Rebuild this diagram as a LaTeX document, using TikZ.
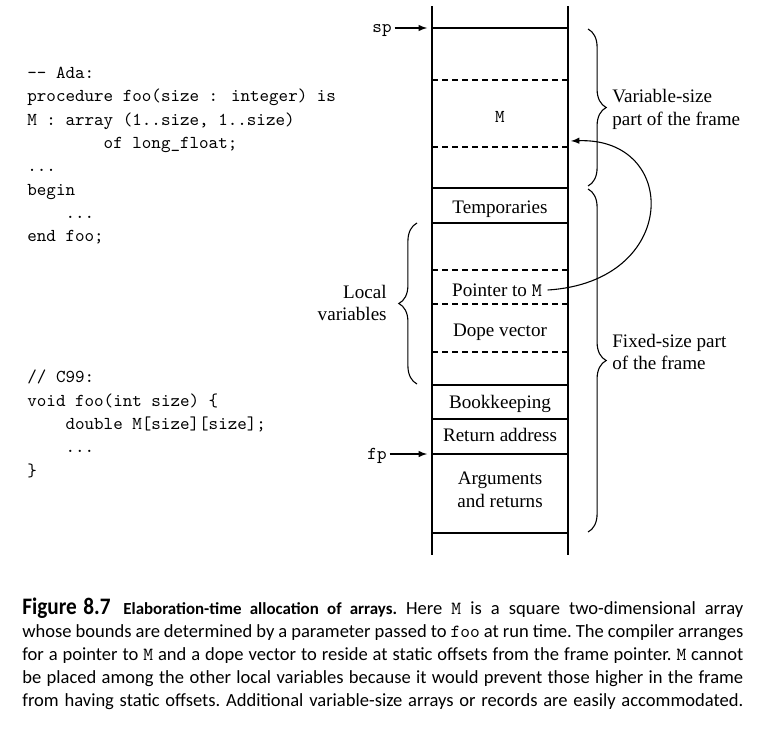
\documentclass[tikz,border=0pt]{standalone}
\usepackage{fontspec}
\setmainfont{Liberation Serif}
\newfontfamily\capfont{Carlito}
\usetikzlibrary{arrows,decorations.pathreplacing}

\begin{document}
\begin{tikzpicture}%
        [x=0.55pt,
        y=-0.55pt,
        wall/.style={thick},
        slot/.style={thick},
        gap/.style={thick, dash pattern=on 3.3pt off 2.2pt},
        cell/.style={font=\fontsize{10.5}{12.5}\selectfont, align=center, inner sep=3pt},
        code/.style={font=\ttfamily\fontsize{10}{12.8}\selectfont, align=left, anchor=north west, inner sep=0pt},
        reg/.style={font=\ttfamily\fontsize{10}{12}\selectfont, inner sep=1.5pt},
        note/.style={font=\fontsize{10.5}{12.4}\selectfont, inner sep=0pt},
        brace/.style={decorate, decoration={brace, amplitude=10pt}, line width=0.6pt},
        link/.style={line width=0.6pt, -latex}]

    \useasboundingbox (0,0) rectangle (763,736);

    %% Source code
    \node[code] (ada) at (27,67) {%
        -\kern0pt- Ada:\\
        procedure foo(size : integer) is\\
        M : array (1..size, 1..size)\\
        ~~~~~~~~of long\_float;\\
        ...\\
        begin\\
        ~~~~...\\
        end foo;};
    \node[code] (cnn) at (27,370) {%
        // C99:\\
        void foo(int size) \{\\
        ~~~~double M[size][size];\\
        ~~~~...\\
        \}};

    %% The stack
    \draw[wall] (432,6) -- (432,555);
    \draw[wall] (568,6) -- (568,555);
    \foreach \y in {28,188,223,385,419,454,533}
        \draw[slot] (432,\y) -- (568,\y);
    \foreach \y in {80,147,270,304,352}
        \draw[gap] (432,\y) -- (568,\y);

    %% Contents of the frame
    \node[cell, font=\ttfamily] (m) at (500,117) {M};
    \node[cell, anchor=base] (temp) at (500,213) {Temporaries};
    \node[cell] (pointer) at (497,290) {Pointer to \texttt{M}};
    \node[cell, anchor=base] (dope) at (500,336) {Dope vector};
    \node[cell, anchor=base] (book) at (500,408) {Bookkeeping};
    \node[cell, anchor=base] (ret) at (500,441.7) {Return address};
    \node[cell] (args) at (500,490) {Arguments\\and returns};

    %% Registers
    \coordinate (sptop) at (427,28);
    \coordinate (fptop) at (427,454);
    \node[reg] (sp) at (382,31) {sp};
    \node[reg] (fp) at (377,456) {fp};
    \draw[link] (sp.east |- sptop) -- (sptop);
    \draw[link] (fp.east |- fptop) -- (fptop);

    %% Pointer to M
    \coordinate (mtop) at (571,141);
    \draw[link] (pointer.east) .. controls (680,282) and (680,137) .. (mtop);

    %% Braces and their labels
    \draw[brace] (588,29) -- (588,186);
    \draw[brace] (588,189) -- (588,532);
    \draw[brace] (417,384) -- (417,223);
    \node[note, align=left, anchor=west] (varsize) at (612,109.5) {Variable-size\\part of the frame};
    \node[note, align=left, anchor=west] (fixsize) at (612,352) {Fixed-size part\\of the frame};
    \node[note, align=right, anchor=east] (locals) at (387,303) {Local\\variables};

    %% Caption
    \node[anchor=north west, inner sep=0pt, text width=396.5pt, align=justify,
          font=\capfont\fontsize{10.2}{12.65}\selectfont] (caption) at (22,598) {%
        \frenchspacing\hyphenpenalty=10000
        {\fontsize{13}{12.65}\selectfont\bfseries\scalebox{0.9}[1]{Figure\hspace{4pt}8.7}}\hspace{7pt}%
        {\fontsize{9.3}{12.65}\selectfont\bfseries Elaboration-time allocation of arrays.} Here \texttt{M} is a square two-dimensional array\linebreak
        whose bounds are determined by a parameter passed to \texttt{foo} at run time. The compiler arranges\linebreak
        for a pointer to \texttt{M} and a dope vector to reside at static offsets from the frame pointer. \texttt{M} cannot\linebreak
        be placed among the other local variables because it would prevent those higher in the frame\linebreak
        from having static offsets. Additional variable-size arrays or records are easily accommodated.\parfillskip=0pt\par};
    %%
\end{tikzpicture}
\end{document}
